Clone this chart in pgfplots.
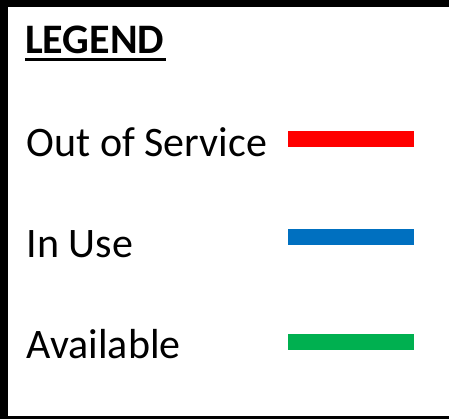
\documentclass[border=0pt]{standalone}
\usepackage{fontspec}
\setmainfont{Carlito}
\usepackage{pgfplots}
\pgfplotsset{compat=1.18}

\definecolor{outred}{HTML}{FF0000}
\definecolor{useblue}{HTML}{0070C0}
\definecolor{availgreen}{HTML}{00B050}

\begin{document}
\begin{tikzpicture}
\begin{axis}[
    width=449pt, height=419pt, scale only axis,
    xmin=0, xmax=449, ymin=0, ymax=419,
    y dir=reverse,
    hide axis, clip=false,
    every axis plot/.append style={no markers},
    nodes={inner sep=0pt, font=\fontsize{42}{50}\selectfont},
  ]
  \coordinate (sw) at (axis cs:0,419);
  \coordinate (ne) at (axis cs:449,0);
  % frame
  \addplot[black, line width=7.5pt] coordinates {(3.75,0) (3.75,419)};
  \addplot[black, line width=7pt] coordinates {(0,3.5) (449,3.5)};
  \addplot[black, line width=3pt] coordinates {(0,417.5) (449,417.5)};

  % title
  \node[anchor=base west] at (axis cs:25,54) {\bfseries LEGEND};
  \addplot[black, line width=3pt] coordinates {(25,59.5) (166,59.5)};

  % entries
  \node[anchor=base west] at (axis cs:26.5,157) {Out of Service};
  \addplot[outred, line width=16pt] coordinates {(288,139) (414,139)};

  \node[anchor=base west] at (axis cs:26.5,258) {In Use};
  \addplot[useblue, line width=16pt] coordinates {(288,237) (414,237)};

  \node[anchor=base west] at (axis cs:26.5,358) {Available};
  \addplot[availgreen, line width=16pt] coordinates {(288,342) (414,342)};
\end{axis}
\pgfresetboundingbox
\path[use as bounding box] (sw) rectangle (ne);
\end{tikzpicture}
\end{document}
